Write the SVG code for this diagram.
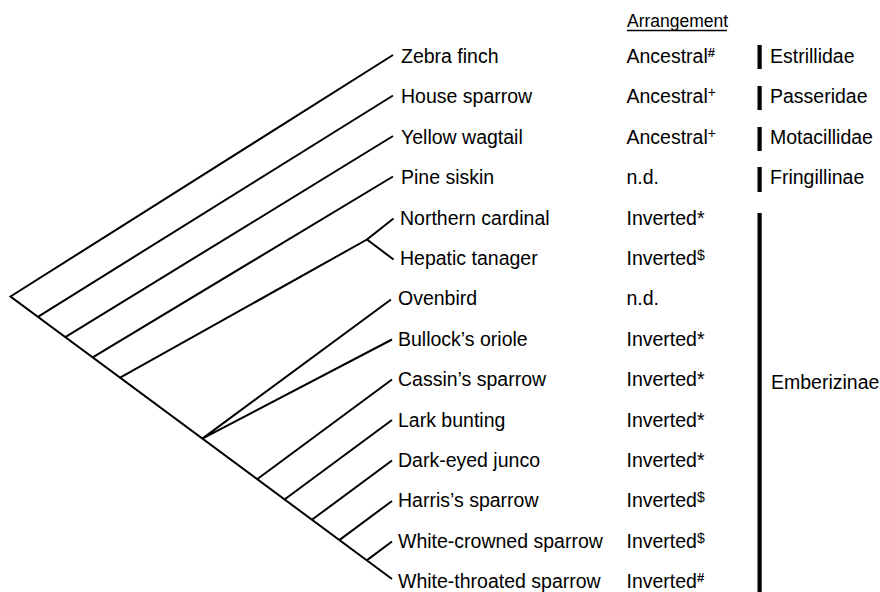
<svg xmlns="http://www.w3.org/2000/svg" width="880" height="592" viewBox="0 0 880 592">
  <style>
    text { font-family: "Liberation Sans", Arial, sans-serif; font-size: 19.5px; fill: #000; }
    .hdr { font-size: 17.5px; }
    .sup { font-size: 14px; }
    .supb { font-size: 13px; font-weight: bold; }
    .branch { stroke: #000; stroke-width: 2; fill: none; stroke-linecap: butt; stroke-linejoin: miter; }
    .bar { fill: #000; }
  </style>

  <rect width="880" height="592" fill="#fff"/>

  <!-- tree branches -->
  <g id="connectors" class="branch">
    <!-- backbone from root to White-throated sparrow tip -->
    <polyline points="393,55 10.5,296.5 392,579"/>
    <line x1="37.9" y1="316.8" x2="393" y2="95.5"/>
    <line x1="65.3" y1="337.1" x2="393" y2="136"/>
    <line x1="92.7" y1="357.4" x2="393" y2="176.5"/>
    <!-- cardinal / tanager clade -->
    <line x1="120.1" y1="377.7" x2="367" y2="239.5"/>
    <polyline points="393.5,218.5 367,239.5 393.5,259.5"/>
    <!-- ovenbird / oriole split -->
    <polyline points="391,299.5 202.3,438.6 392,339.5"/>
    <line x1="257.1" y1="479.2" x2="392" y2="379.5"/>
    <line x1="284.5" y1="499.5" x2="392" y2="420"/>
    <line x1="311.9" y1="519.8" x2="392" y2="460.5"/>
    <line x1="339.3" y1="540.1" x2="392" y2="501"/>
    <line x1="366.7" y1="560.4" x2="392" y2="541.5"/>
  </g>

  <!-- column header -->
  <g id="header">
    <text class="hdr" x="627" y="27">Arrangement</text>
    <line x1="627" y1="30.5" x2="727" y2="30.5" stroke="#000" stroke-width="1.3"/>
  </g>

  <!-- taxa with their gene arrangement -->
  <g id="zebra-finch"><text x="401" y="63">Zebra finch</text><text x="626.5" y="63">Ancestral<tspan class="supb" dy="-6">#</tspan></text></g>
  <g id="house-sparrow"><text x="401" y="103.4">House sparrow</text><text x="626.5" y="103.4">Ancestral<tspan class="sup" dy="-6">+</tspan></text></g>
  <g id="yellow-wagtail"><text x="401" y="143.8">Yellow wagtail</text><text x="626.5" y="143.8">Ancestral<tspan class="sup" dy="-6">+</tspan></text></g>
  <g id="pine-siskin"><text x="401" y="184.2">Pine siskin</text><text x="626.5" y="184.2">n.d.</text></g>
  <g id="northern-cardinal"><text x="400" y="224.6">Northern cardinal</text><text x="626.5" y="224.6">Inverted*</text></g>
  <g id="hepatic-tanager"><text x="400" y="265">Hepatic tanager</text><text x="626.5" y="265">Inverted<tspan class="sup" dy="-5">$</tspan></text></g>
  <g id="ovenbird"><text x="398" y="305.4">Ovenbird</text><text x="626.5" y="305.4">n.d.</text></g>
  <g id="bullocks-oriole"><text x="398" y="345.8">Bullock’s oriole</text><text x="626.5" y="345.8">Inverted*</text></g>
  <g id="cassins-sparrow"><text x="398" y="386.2">Cassin’s sparrow</text><text x="626.5" y="386.2">Inverted*</text></g>
  <g id="lark-bunting"><text x="398" y="426.6">Lark bunting</text><text x="626.5" y="426.6">Inverted*</text></g>
  <g id="dark-eyed-junco"><text x="398" y="467">Dark-eyed junco</text><text x="626.5" y="467">Inverted*</text></g>
  <g id="harriss-sparrow"><text x="398" y="507.4">Harris’s sparrow</text><text x="626.5" y="507.4">Inverted<tspan class="sup" dy="-5">$</tspan></text></g>
  <g id="white-crowned-sparrow"><text x="398" y="547.8">White-crowned sparrow</text><text x="626.5" y="547.8">Inverted<tspan class="sup" dy="-5">$</tspan></text></g>
  <g id="white-throated-sparrow"><text x="398" y="588.2">White-throated sparrow</text><text x="626.5" y="588.2">Inverted<tspan class="supb" dy="-6">#</tspan></text></g>

  <!-- family / subfamily brackets -->
  <g id="estrillidae"><rect class="bar" x="757.5" y="45" width="4.2" height="24"/><text x="770" y="63">Estrillidae</text></g>
  <g id="passeridae"><rect class="bar" x="757.5" y="86" width="4.2" height="24"/><text x="770" y="103.4">Passeridae</text></g>
  <g id="motacillidae"><rect class="bar" x="757.5" y="127" width="4.2" height="24"/><text x="770" y="143.8">Motacillidae</text></g>
  <g id="fringillinae"><rect class="bar" x="757.5" y="167" width="4.2" height="25"/><text x="770" y="184.2">Fringillinae</text></g>
  <g id="emberizinae"><rect class="bar" x="757.5" y="213" width="4.2" height="379"/><text x="771" y="389">Emberizinae</text></g>
</svg>
